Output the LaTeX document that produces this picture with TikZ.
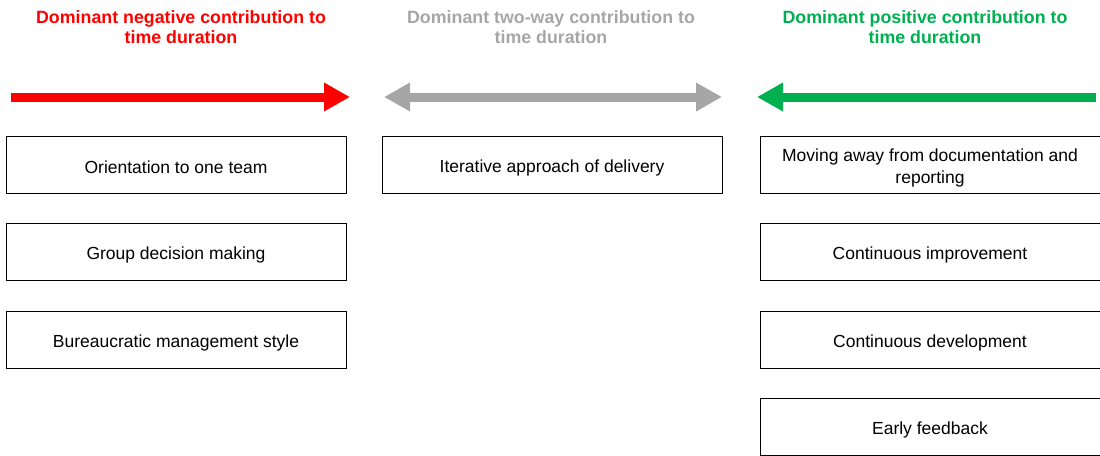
\documentclass[tikz,border=0pt]{standalone}
\usepackage{fontspec}
\setmainfont{Liberation Sans}
\usetikzlibrary{arrows.meta}
\definecolor{negred}{RGB}{255,0,0}
\definecolor{twogray}{RGB}{166,166,166}
\definecolor{posgreen}{RGB}{0,176,80}
\begin{document}
\begin{tikzpicture}[x=1pt,y=-1pt,
  factor/.style={draw=black,line width=1pt,rectangle,minimum width=340pt,minimum height=57pt,
    align=center,font=\fontsize{17.5pt}{21.5pt}\selectfont,inner sep=0pt,
    execute at begin node={\rule{0pt}{18pt}}},
  header/.style={align=center,font=\bfseries\fontsize{17.8pt}{20.5pt}\selectfont},
  bigarrow/.style={line width=9pt,-{Triangle[length=26pt,width=27pt]}},
  bigdarrow/.style={line width=9pt,{Triangle[length=26pt,width=27pt]}-{Triangle[length=26pt,width=27pt]}}
]
\useasboundingbox (0,0) rectangle (1100,455);
% headers
\node[header,text=negred] (hneg) at (181,27) {Dominant negative contribution to\\time duration};
\node[header,text=twogray] (htwo) at (551,27) {Dominant two-way contribution to\\time duration};
\node[header,text=posgreen] (hpos) at (925,27) {Dominant positive contribution to\\time duration};
% arrows
\coordinate (rs) at (11,97); \coordinate (re) at (350,97);
\coordinate (gs) at (384,97); \coordinate (ge) at (722,97);
\coordinate (ps) at (1096,97); \coordinate (pe) at (757,97);
\draw[bigarrow,negred] (rs) -- (re);
\draw[bigdarrow,twogray] (gs) -- (ge);
\draw[bigarrow,posgreen] (ps) -- (pe);
% left column
\node[factor] (n1) at (176,165) {Orientation to one team};
\node[factor] (n2) at (176,252) {Group decision making};
\node[factor] (n3) at (176,340) {Bureaucratic management style};
% middle
\node[factor] (t1) at (552,165) {Iterative approach of delivery};
% right column
\node[factor] (p1) at (930,165) {\rule{0pt}{18.5pt}Moving away from documentation and\\reporting};
\node[factor] (p2) at (930,252) {Continuous improvement};
\node[factor] (p3) at (930,340) {Continuous development};
\node[factor] (p4) at (930,427) {Early feedback};
\end{tikzpicture}
\end{document}
